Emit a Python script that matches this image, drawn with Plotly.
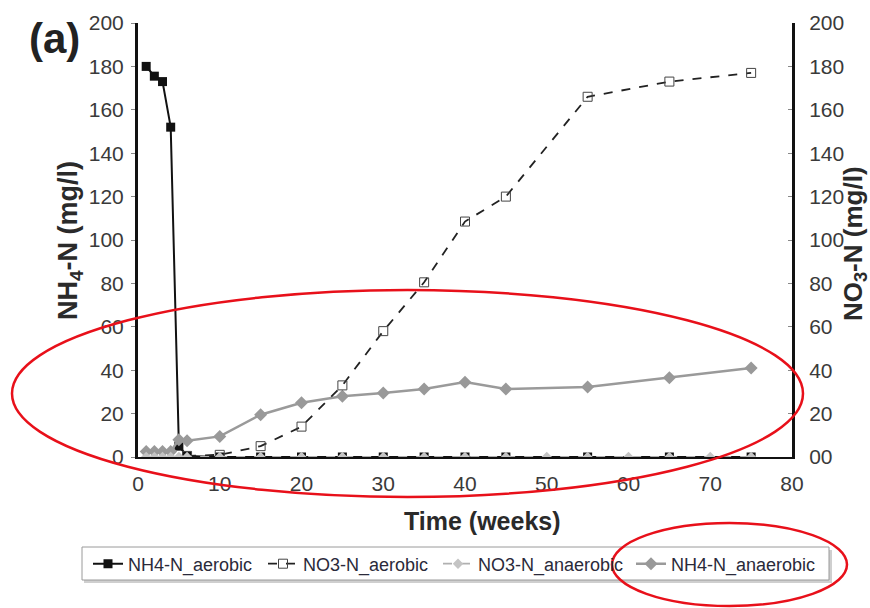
import plotly.graph_objects as go

# ---- data ----
nh4_aer_weeks = [1, 2, 3, 4, 5, 6, 10, 15, 20, 25, 30, 35, 40, 45, 55, 65, 75]
nh4_aer_vals = [180, 175.5, 173, 152, 5, 0.5, 0, 0, 0, 0, 0, 0, 0, 0, 0, 0, 0]

no3_aer_weeks = [6, 10, 15, 20, 25, 30, 35, 40, 45, 55, 65, 75]
no3_aer_vals = [0.5, 1, 5, 14, 33, 58, 80.5, 108.5, 120, 166, 173, 177]

no3_anaer_weeks = [1, 2, 3, 4, 5, 6, 10, 15, 20, 25, 30, 35, 40, 45, 50, 55, 60, 65, 70, 75]
no3_anaer_vals = [0] * 20

nh4_anaer_weeks = [1, 2, 3, 4, 5, 6, 10, 15, 20, 25, 30, 35, 40, 45, 55, 65, 75]
nh4_anaer_vals = [2.5, 2.5, 2.5, 2.5, 8, 7.5, 9.5, 19.5, 25, 28, 29.5, 31.3, 34.5, 31.3, 32.3, 36.5, 41]

y_ticks = [0, 20, 40, 60, 80, 100, 120, 140, 160, 180, 200]
y_left_labels = ["0", "20", "40", "60", "80", "100", "120", "140", "160", "180", "200"]
y_right_labels = ["00", "20", "40", "60", "80", "100", "120", "140", "160", "180", "200"]
x_ticks = [0, 10, 20, 30, 40, 50, 60, 70, 80]

FONT = "Liberation Sans, Arial"
TICKCOL = "#3a3a3a"
TITLECOL = "#2a2a2a"

# plot area in pixels: x 138..792, y 23..457
L, R, T, B = 138, 870 - 792, 23, 608 - 457
PW, PH = 870 - L - R, 608 - T - B

def px(xp):
    return (xp - L) / PW

def py(yp):
    return (608 - B - yp) / PH

fig = go.Figure()

fig.add_trace(go.Scatter(
    x=nh4_aer_weeks, y=nh4_aer_vals, name="NH4-N_aerobic", mode="lines+markers",
    line=dict(color="#111111", width=2),
    marker=dict(symbol="square", size=9, color="#111111"),
    yaxis="y", legend="legend"))

fig.add_trace(go.Scatter(
    x=no3_aer_weeks, y=no3_aer_vals, name="NO3-N_aerobic", mode="lines+markers",
    line=dict(color="#222222", width=1.8, dash="dash"),
    marker=dict(symbol="square-open", size=9, color="#444444", line=dict(width=1)),
    yaxis="y2", legend="legend2"))

fig.add_trace(go.Scatter(
    x=no3_anaer_weeks, y=no3_anaer_vals, name="NO3-N_anaerobic", mode="lines+markers",
    line=dict(color="#b0b0b0", width=1.8, dash="dash"),
    marker=dict(symbol="diamond", size=8, color="#c4c4c4"),
    yaxis="y2", legend="legend3"))

fig.add_trace(go.Scatter(
    x=nh4_anaer_weeks, y=nh4_anaer_vals, name="NH4-N_anaerobic", mode="lines+markers",
    line=dict(color="#9a9a9a", width=2.5),
    marker=dict(symbol="diamond", size=10, color="#999999"),
    yaxis="y", legend="legend4"))

def leg(xpix):
    return dict(
        orientation="h", xref="paper", yref="paper", x=px(xpix), xanchor="left",
        y=py(564), yanchor="middle", bgcolor="rgba(0,0,0,0)", borderwidth=0,
        font=dict(family=FONT, size=18, color="#2a2a3a"), itemwidth=30,
    )

fig.update_layout(
    width=870, height=608,
    margin=dict(l=L, r=R, t=T, b=B, autoexpand=False),
    paper_bgcolor="white", plot_bgcolor="white",
    showlegend=True,
    xaxis=dict(
        range=[0, 80], tickvals=x_ticks, showgrid=False, zeroline=False,
        showline=True, linecolor="#111111", linewidth=2,
        ticks="", ticklabelstandoff=7, tickfont=dict(family=FONT, size=21, color=TICKCOL),
    ),
    yaxis=dict(
        range=[0, 200], tickvals=y_ticks, ticktext=y_left_labels, showgrid=False, zeroline=False,
        showline=True, linecolor="#111111", linewidth=3,
        ticks="outside", ticklen=4, tickcolor="#888888", ticklabelstandoff=3,
        tickfont=dict(family=FONT, size=21, color=TICKCOL),
    ),
    yaxis2=dict(
        range=[0, 200], tickvals=y_ticks, ticktext=y_right_labels, overlaying="y", side="right",
        showgrid=False, zeroline=False,
        showline=True, linecolor="#111111", linewidth=3,
        ticks="inside", ticklen=4, tickcolor="#888888", ticklabelstandoff=10,
        tickfont=dict(family=FONT, size=21, color=TICKCOL),
    ),
    legend=leg(88),
    legend2=leg(263),
    legend3=leg(438),
    legend4=leg(631),
)

# axis titles
fig.add_annotation(text="<b>Time (weeks)</b>", xref="paper", yref="paper",
                   x=px(482), y=py(521), xanchor="center", yanchor="middle", showarrow=False,
                   font=dict(family=FONT, size=25, color=TITLECOL))
fig.add_annotation(text="<b>NH<sub>4</sub>-N (mg/l)</b>", xref="paper", yref="paper",
                   x=px(70), y=py(241), xanchor="center", yanchor="middle", showarrow=False,
                   textangle=-90, font=dict(family=FONT, size=27, color=TITLECOL))
fig.add_annotation(text="<b>NO<sub>3</sub>-N (mg/l)</b>", xref="paper", yref="paper",
                   x=px(855), y=py(244), xanchor="center", yanchor="middle", showarrow=False,
                   textangle=-90, font=dict(family=FONT, size=26, color=TITLECOL))

fig.add_annotation(
    text="<b>(a)</b>", xref="paper", yref="paper", x=px(54), y=py(39), xanchor="center", yanchor="middle",
    showarrow=False, font=dict(family=FONT, size=42, color="#222222"))

# legend frame (shadow + box)
fig.add_shape(type="rect", xref="paper", yref="paper",
              x0=px(84), x1=px(832), y0=py(583), y1=py(550),
              line=dict(width=0), fillcolor="#cfcfcf", layer="below")
fig.add_shape(type="rect", xref="paper", yref="paper",
              x0=px(82), x1=px(829), y0=py(580), y1=py(547),
              line=dict(color="#9a9a9a", width=1), fillcolor="white", layer="below")

# red ellipses
fig.add_shape(type="circle", xref="paper", yref="paper",
              x0=px(12), x1=px(803), y0=py(497), y1=py(290),
              line=dict(color="#e8101a", width=2.5), layer="above")
fig.add_shape(type="circle", xref="paper", yref="paper",
              x0=px(612), x1=px(847), y0=py(606), y1=py(523),
              line=dict(color="#e8101a", width=2.5), layer="above")

fig.write_html("out.html")
